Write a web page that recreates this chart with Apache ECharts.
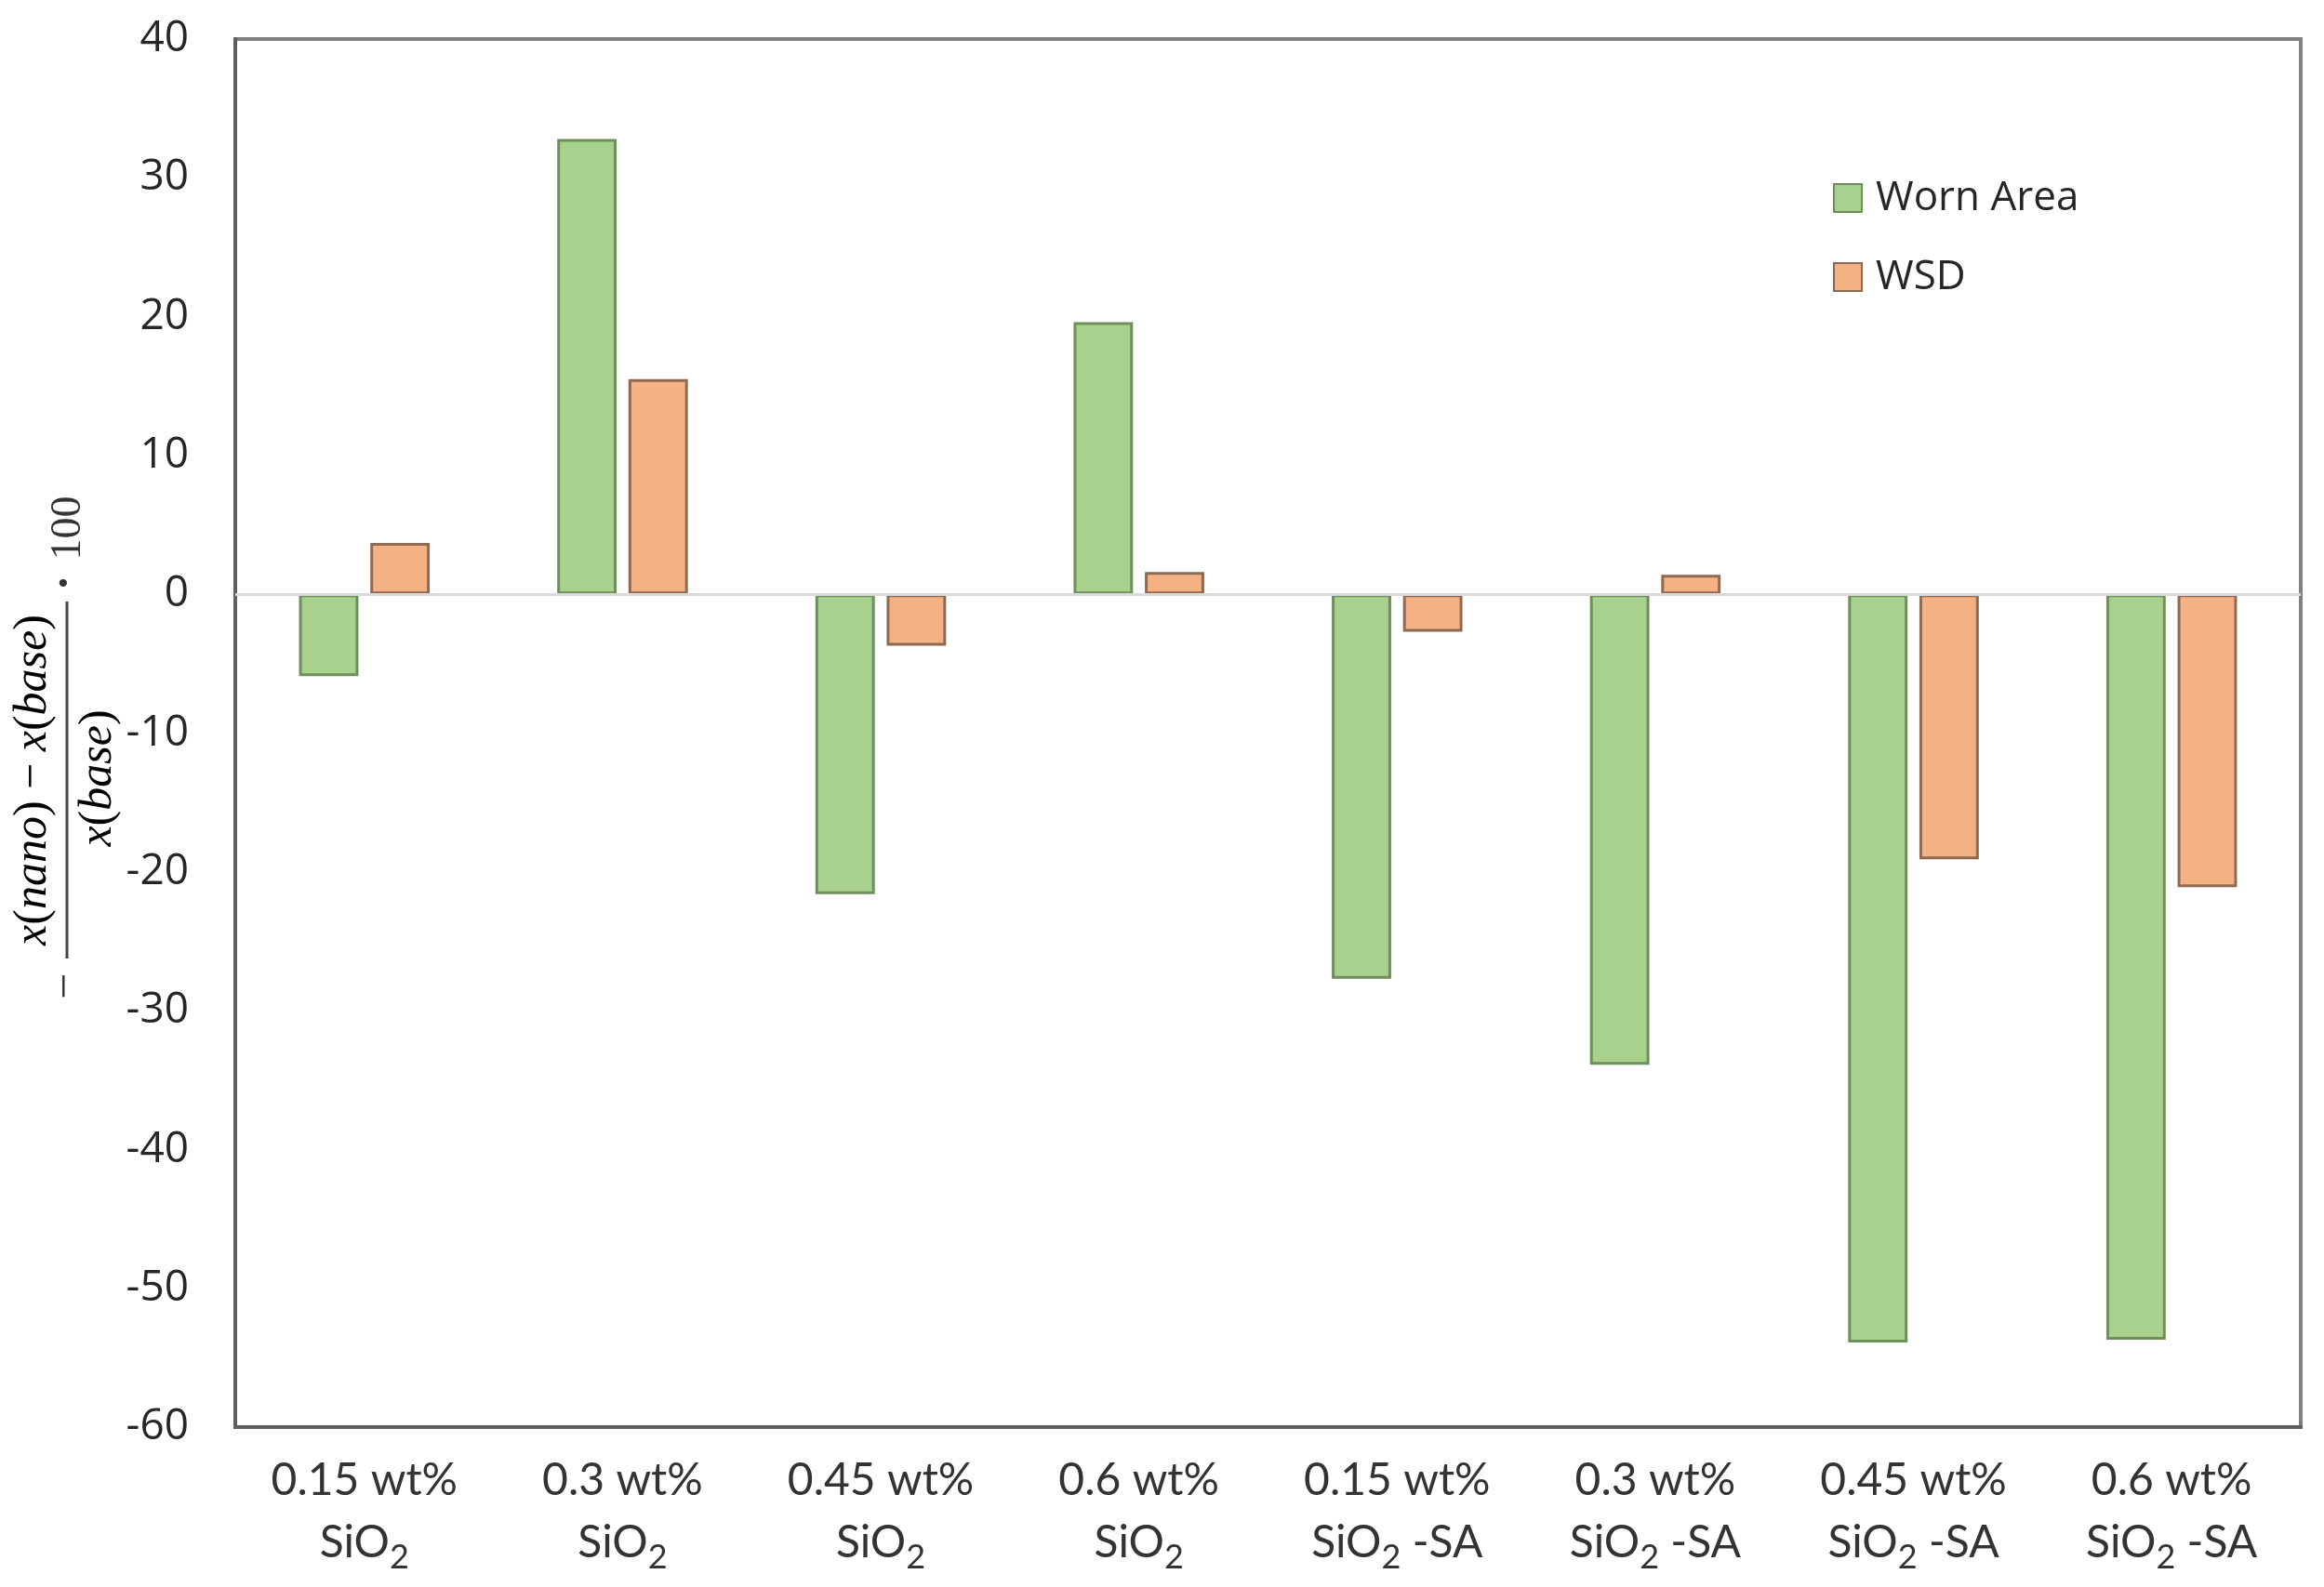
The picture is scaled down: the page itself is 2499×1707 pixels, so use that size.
<!DOCTYPE html>
<html>
<head>
<meta charset="utf-8">
<script src="https://cdn.jsdelivr.net/npm/echarts@6/dist/echarts.min.js"></script>
<style>
html,body{margin:0;padding:0;background:#fff;}
#chart{width:2499px;height:1707px;}
</style>
</head>
<body>
<div id="chart"></div>
<script>
const categories = ['0.15 wt%\nSiO2', '0.3 wt%\nSiO2', '0.45 wt%\nSiO2', '0.6 wt%\nSiO2',
  '0.15 wt%\nSiO2 -SA', '0.3 wt%\nSiO2 -SA', '0.45 wt%\nSiO2 -SA', '0.6 wt%\nSiO2 -SA'];
const wornArea = [-5.9, 32.8, -21.6, 19.6, -27.7, -33.9, -53.9, -53.7];
const wsd = [3.7, 15.5, -3.7, 1.6, -2.7, 1.4, -19.1, -21.1];
const seriesNames = ['Worn Area', 'WSD'];
const yMin = -60, yMax = 40, yStep = 10;

const chart = echarts.init(document.getElementById('chart'));
const txt = '#333333';
const ital = {fontFamily: 'Liberation Serif', fontStyle: 'italic', fontSize: 50, color: '#333'};
const upr = {fontFamily: 'Liberation Serif', fontStyle: 'normal', fontSize: 50, color: '#333'};

chart.setOption({
  backgroundColor: '#fff',
  animation: false,
  grid: {left: 253, right: 25, top: 42, bottom: 172, show: true, borderColor: '#808080', borderWidth: 4},
  legend: {
    orient: 'vertical', left: 1966, top: 186,
    itemWidth: 30, itemHeight: 30, itemGap: 41,
    icon: 'rect',
    textStyle: {fontFamily: 'Open Sans', fontSize: 44, color: '#262626', padding: [0, 0, 0, 10]},
    data: seriesNames
  },
  xAxis: {
    type: 'category', data: categories,
    axisLine: {show: true, onZero: false, lineStyle: {color: '#5f5f5f', width: 4}},
    axisTick: {show: false},
    axisLabel: {
      interval: 0, margin: 24, fontFamily: 'Lato', fontSize: 48, color: txt, lineHeight: 67,
      formatter: v => v.replace('SiO2', 'SiO{s|2}'),
      rich: {s: {fontFamily: 'Lato', fontSize: 36, color: txt, lineHeight: 54, verticalAlign: 'bottom'}}
    }
  },
  yAxis: {
    type: 'value', min: yMin, max: yMax, interval: yStep,
    axisLine: {show: true, lineStyle: {color: '#5f5f5f', width: 4}},
    axisTick: {show: false},
    splitLine: {show: false},
    axisLabel: {margin: 50, fontFamily: 'Open Sans', fontSize: 46, color: '#262626'}
  },
  series: [
    {
      name: seriesNames[0], type: 'bar', data: wornArea,
      barWidth: '23%', barGap: '20%',
      itemStyle: {color: '#a9d18e', borderColor: '#6e8f5a', borderWidth: 3},
      markLine: {silent: true, symbol: 'none', label: {show: false},
        lineStyle: {color: '#d9d9d9', width: 3, type: 'solid'}, data: [{yAxis: 0}]},
      z: 2
    },
    {
      name: seriesNames[1], type: 'bar', data: wsd,
      barWidth: '23%', barGap: '20%',
      itemStyle: {color: '#f4b183', borderColor: '#8e6a52', borderWidth: 3},
      z: 2
    }
  ],
  graphic: [{
    type: 'group', x: 72, y: 839, rotation: Math.PI / 2,
    children: [
      {type: 'line', shape: {x1: -192, y1: 0, x2: 192, y2: 0}, style: {stroke: '#444', lineWidth: 3}},
      {type: 'text', x: 0, y: -36, style: {
        text: '{i|x}{u|(}{i|nano}{u|)}{u| − }{i|x}{u|(}{i|base}{u|)}',
        align: 'center', verticalAlign: 'middle', rich: {i: ital, u: upr}}},
      {type: 'text', x: 2, y: 34, style: {
        text: '{i|x}{u|(}{i|base}{u|)}',
        align: 'center', verticalAlign: 'middle', rich: {i: ital, u: upr}}},
      {type: 'text', x: -222, y: 0, style: {text: '−', align: 'center', verticalAlign: 'middle',
        font: '50px "Liberation Serif"', fill: '#333'}},
      {type: 'text', x: 212, y: 0, style: {text: '·', align: 'center', verticalAlign: 'middle',
        font: 'bold 50px "Liberation Serif"', fill: '#333'}},
      {type: 'text', x: 271, y: 2, style: {text: '100', align: 'center', verticalAlign: 'middle',
        font: '46px "Liberation Serif"', fill: '#333'}}
    ]
  }]
});
</script>
</body>
</html>
